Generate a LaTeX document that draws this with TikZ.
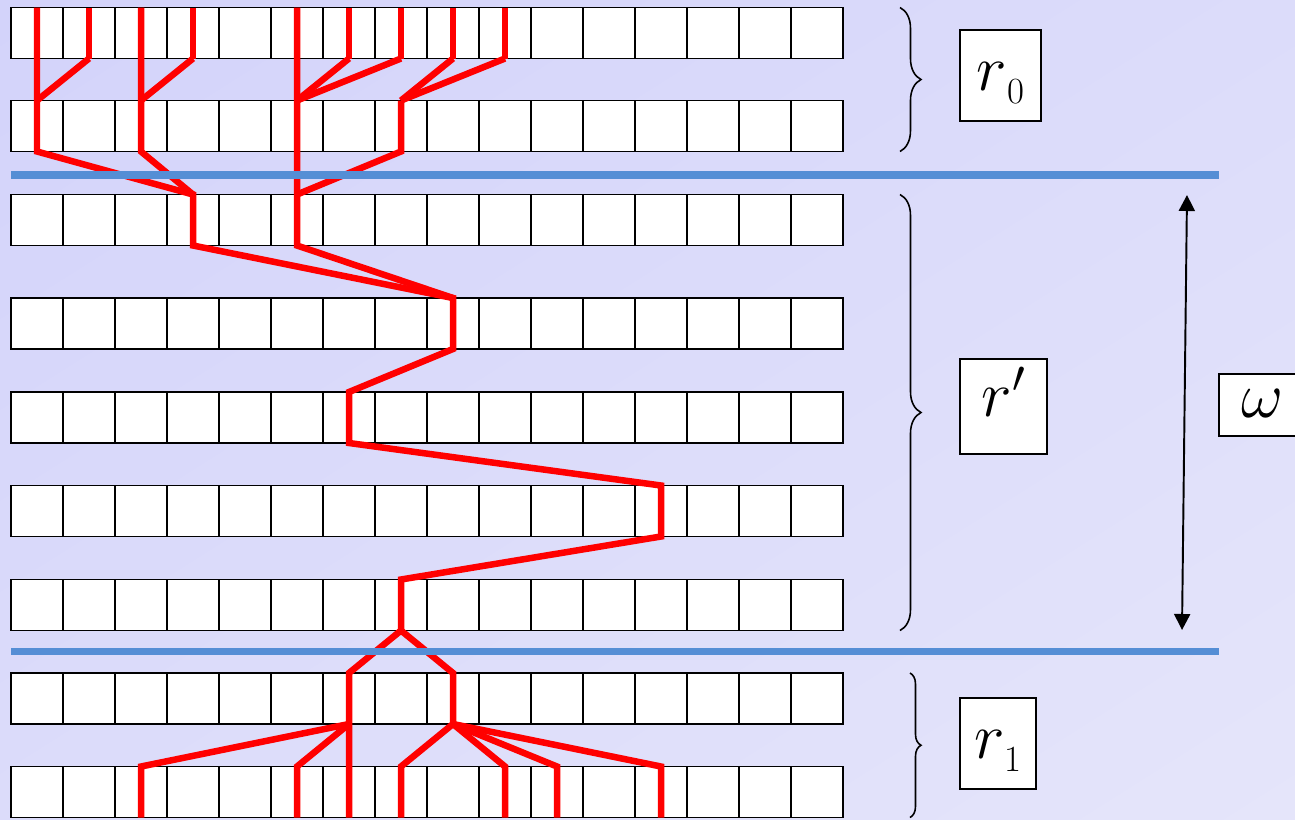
\RequirePackage{fix-cm}
\documentclass[tikz,border=0pt]{standalone}
\usepackage{tikz}
\usetikzlibrary{arrows.meta,positioning,calc,decorations.pathreplacing,shadings}
\definecolor{sepblue}{RGB}{85,142,213}
\definecolor{bgA}{RGB}{211,211,250}
\definecolor{bgB}{RGB}{220,220,250}
\definecolor{bgC}{RGB}{229,229,250}
\newcommand{\labsub}[1]{\raisebox{-0.26cm}{\fontsize{21}{24}\selectfont #1}}

\begin{document}
\begin{tikzpicture}[x=0.02cm,y=-0.02cm,
  cell/.style={draw,fill=white,line width=1pt,minimum width=1.04cm,
    minimum height=1.02cm,inner sep=0pt,outer sep=0pt},
  redline/.style={draw=red,line width=0.13cm},
  sepline/.style={draw=sepblue,line width=0.15cm},
  lab/.style={draw,fill=white,line width=1pt,inner sep=0pt,
    font=\fontsize{37}{42}\selectfont},
  brace/.style={decorate,decoration={brace,amplitude=#1},line width=0.9pt}]
  % 背景（グラデーション）
  \useasboundingbox (0,0) rectangle (1295,819);
  \shade[upper left=bgA,upper right=bgB,lower left=bgB,lower right=bgC]
    (0,0) rectangle (1295,819);
  % 16マスの行を9段
  \foreach \r/\y in {0/33,1/126,2/220,3/323.5,4/417.5,5/511,6/605,7/698.5,8/792}
    \foreach \c in {0,...,15}
      \node[cell] (c\r-\c) at ({37+52*\c},\y) {};
  % r0 部分：縦線と合流
  \foreach \c in {1,3,6,7,8,9}
    \draw[redline] (c0-\c.north) -- (c0-\c.south);
  \foreach \a/\b in {1/0,3/2,6/5,7/5,8/7,9/7}
    \draw[redline] (c0-\a.south) -- (c1-\b.north);
  % r' 部分：一本の経路
  \draw[redline] (c0-0.north) -- (c1-0.south) -- (c2-3.north) -- (c2-3.south)
    -- (c3-8.north) -- (c3-8.south) -- (c4-6.north) -- (c4-6.south)
    -- (c5-12.north) -- (c5-12.south) -- (c6-7.north) -- (c6-7.south);
  \draw[redline] (c0-2.north) -- (c1-2.south) -- (c2-3.north);
  \draw[redline] (c0-5.north) -- (c2-5.south) -- (c3-8.north);
  \draw[redline] (c1-7.north) -- (c1-7.south) -- (c2-5.north);
  % r1 部分：枝分かれ
  \draw[redline] (c6-7.south) -- (c7-6.north) -- (c8-6.south);
  \draw[redline] (c6-7.south) -- (c7-8.north) -- (c7-8.south);
  \foreach \b in {2,5}
    \draw[redline] (c7-6.south) -- (c8-\b.north) -- (c8-\b.south);
  \foreach \b in {7,9,10,12}
    \draw[redline] (c7-8.south) -- (c8-\b.north) -- (c8-\b.south);
  % 区切りの青線
  \draw[sepline] (11,175) -- (1219,175);
  \draw[sepline] (11,651.5) -- (1219,651.5);
  % 中括弧
  \draw[brace=0.42cm] ($(c0-15.north east)+(57,0)$) -- ($(c1-15.south east)+(57,0)$);
  \draw[brace=0.42cm] ($(c2-15.north east)+(57,0)$) -- ($(c6-15.south east)+(57,0)$);
  \draw[brace=0.22cm] ($(c7-15.north east)+(67,0)$) -- ($(c8-15.south east)+(67,0)$);
  % ラベル
  \node[lab,minimum width=1.62cm,minimum height=1.82cm,text height=0.7cm,text depth=0.12cm]
    (r0) at (1000.5,75.5) {$r$\labsub{0}};
  \node[lab,minimum width=1.74cm,minimum height=1.9cm,text height=0.6cm,text depth=0.2cm]
    (rp) at (1003.5,406.5) {$r'$};
  \node[lab,minimum width=1.52cm,minimum height=1.82cm,text height=0.7cm,text depth=0.12cm]
    (r1) at (998,743.5) {$r$\labsub{1}};
  \node[lab,minimum width=1.72cm,minimum height=1.24cm,text height=0.62cm,text depth=0.14cm]
    (om) at (1262,405) {$\omega$};
  % 幅 ω の両矢印
  \coordinate (wtop) at (1187,195);
  \coordinate (wbot) at (1182,630);
  \draw[line width=1.1pt,{Triangle[length=0.32cm,width=0.32cm]}-{Triangle[length=0.32cm,width=0.32cm]}]
    (wtop) -- (wbot);
\end{tikzpicture}
\end{document}
